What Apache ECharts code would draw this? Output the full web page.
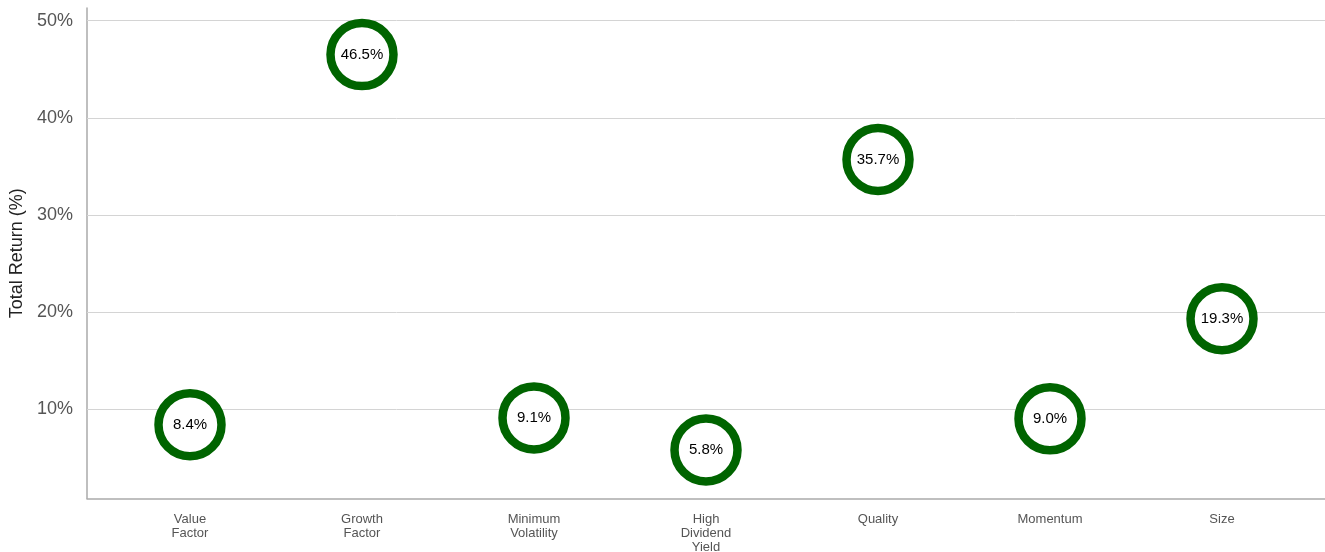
<!DOCTYPE html>
<html><head><meta charset="utf-8">
<script src="https://cdn.jsdelivr.net/npm/echarts@6/dist/echarts.min.js"></script>
<style>html,body{margin:0;padding:0;background:#fff}#c{width:1325px;height:552px}</style>
</head><body><div id="c"></div>
<script>
const categories = ["Value\nFactor","Growth\nFactor","Minimum\nVolatility","High\nDividend\nYield","Quality","Momentum","Size"];
const values = [8.4, 46.5, 9.1, 5.8, 35.7, 9.0, 19.3];
const yTicks = [10, 20, 30, 40, 50];

const chart = echarts.init(document.getElementById('c'));
const font = "'Liberation Sans', Arial, Helvetica, sans-serif";
chart.setOption({
  animation: false,
  grid: {left: 87, right: 0, top: 8, bottom: 53.5, outerBoundsMode: 'none', containLabel: false},
  xAxis: {
    type: 'value', min: -0.5988, max: 6.5988,
    axisLine: {show: true, onZero: false, lineStyle: {color: '#aaaaaa', width: 1.5}},
    axisTick: {show: false}, splitLine: {show: false},
    axisLabel: {customValues: categories.map((c,i)=>i), formatter: v => categories[Math.round(v)],
      color: '#555', fontFamily: font, fontSize: 13, lineHeight: 14, margin: 14, showMinLabel: true, showMaxLabel: true}
  },
  yAxis: {
    type: 'value', min: 0.8, max: 51.3,
    name: 'Total Return (%)', nameLocation: 'middle', nameGap: 59, nameRotate: 90,
    nameTextStyle: {color: '#222', fontFamily: font, fontSize: 18},
    axisLine: {show: true, onZero: false, lineStyle: {color: '#aaaaaa', width: 1.5}},
    axisTick: {show: false}, splitLine: {show: false},
    axisLabel: {customValues: yTicks, formatter: v => v + '%', color: '#555', fontFamily: font, fontSize: 18, margin: 14}
  },
  series: [
    {type: 'line', data: [], z: 1, silent: true,
     markLine: {silent: true, symbol: ['none','none'], label: {show: false}, z: 1,
       lineStyle: {color: '#d4d4d4', width: 1, type: 'solid'},
       data: yTicks.map(t => ({yAxis: t}))}},
    {type: 'scatter', z: 5, symbol: 'circle', symbolSize: 63,
     data: values.map((v,i)=>[i, v]),
     itemStyle: {color: '#ffffff', borderColor: '#006400', borderWidth: 8.5, opacity: 1},
     label: {show: true, position: 'inside', formatter: p => p.value[1].toFixed(1) + '%',
       color: '#000', fontFamily: font, fontSize: 15}}
  ]
});
</script></body></html>
